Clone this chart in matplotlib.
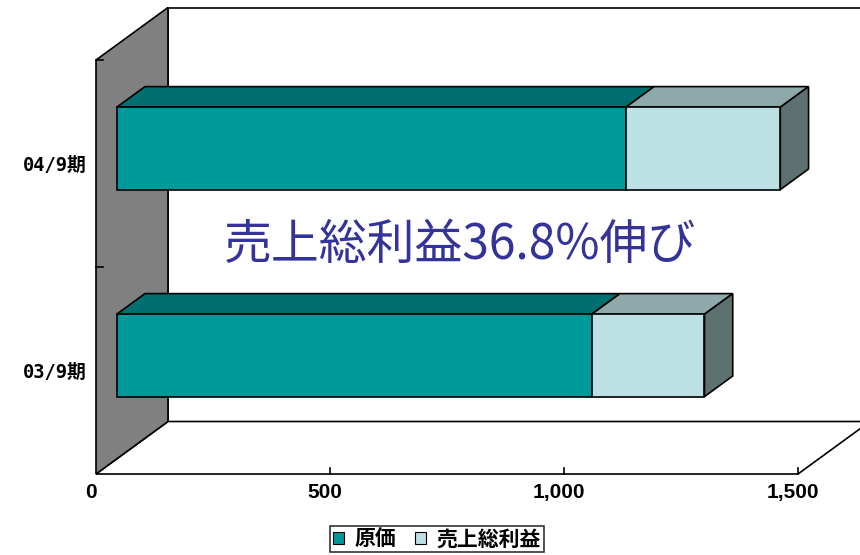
import matplotlib
matplotlib.use("Agg")
import matplotlib.pyplot as plt
from matplotlib.patches import Polygon, Patch

plt.rcParams['font.family'] = ['Noto Sans CJK JP', 'DejaVu Sans']

# ---- data ----
categories = ['03/9期', '04/9期']
series_names = ['原価', '売上総利益']
cost = [1015, 1088]
gross_profit = [241, 330]
x_ticks = [0, 500, 1000, 1500]
x_tick_labels = ['0', '500', '1,000', '1,500']
note = '売上総利益36.8%伸び'

# ---- colours (front / top / end faces) ----
front_cols = ['#009999', '#BCE0E3']
top_cols = ['#006F6F', '#8EA9AA']
end_col = '#5E7171'
wall_col = '#808080'

# ---- geometry of the pseudo-3D box ----
VMAX = 1500
C_LO, C_HI = -0.5, 1.5
DEPTH = (153.8, 0.2536)        # full depth offset in data units
BAR_F0, BAR_F1 = 0.2875, 0.68  # bar position inside the depth
HALF_H = 0.199                 # half bar height

fig = plt.figure(figsize=(8.6, 5.55), dpi=100)
ax = fig.add_axes([0, 0, 1, 1])
ax.set_xlim(-205.13, 1632.5)
ax.set_ylim(-0.8913, 1.7899)
ax.axis('off')


def sh(p, f):
    return (p[0] + DEPTH[0] * f, p[1] + DEPTH[1] * f)


def poly(pts, fc, z=1, lw=1.2):
    ax.add_patch(Polygon(pts, closed=True, facecolor=fc, edgecolor='black',
                         linewidth=lw, zorder=z, joinstyle='miter'))


# back wall, floor, left wall
poly([sh((0, C_LO), 1), sh((VMAX, C_LO), 1), sh((VMAX, C_HI), 1),
      sh((0, C_HI), 1)], 'white', z=1)
poly([(0, C_LO), (VMAX, C_LO), sh((VMAX, C_LO), 1), sh((0, C_LO), 1)],
     'white', z=2)
poly([(0, C_LO), (0, C_HI), sh((0, C_HI), 1), sh((0, C_LO), 1)],
     wall_col, z=2)

# axis ticks
for c in [0.5, 1.5]:
    ax.plot([0, 15], [c, c], color='black', lw=1.2, zorder=3)
for v in x_ticks[1:]:
    ax.plot([v, v], [C_LO, C_LO + 0.029], color='black', lw=1.2, zorder=3)
for v, lab in zip(x_ticks, x_tick_labels):
    ax.text(v - 10, C_LO - 0.087, lab, ha='center', va='center',
            fontsize=15, fontweight='bold', family=['Liberation Sans'],
            zorder=5)
for i, lab in enumerate(categories):
    ax.text(-19, i - 0.01, lab, ha='right', va='center', fontsize=13.5,
            fontweight='bold', family=['DejaVu Sans Mono', 'Noto Sans CJK JP'],
            zorder=5)

# stacked 3D bars
for i in range(len(categories)):
    segs = [(0, cost[i]), (cost[i], cost[i] + gross_profit[i])]
    lo, hi = i - HALF_H, i + HALF_H
    for k, (a, b) in enumerate(segs):
        poly([sh((a, hi), BAR_F0), sh((b, hi), BAR_F0),
              sh((b, hi), BAR_F1), sh((a, hi), BAR_F1)], top_cols[k], z=4)
        poly([sh((a, lo), BAR_F0), sh((b, lo), BAR_F0),
              sh((b, hi), BAR_F0), sh((a, hi), BAR_F0)], front_cols[k], z=5)
    end = segs[-1][1]
    poly([sh((end, lo), BAR_F0), sh((end, lo), BAR_F1),
          sh((end, hi), BAR_F1), sh((end, hi), BAR_F0)], end_col, z=4)

ax.text(778, 0.606, note, ha='center', va='center', fontsize=34.5,
        color='#333399', zorder=6)

handles = [Patch(facecolor=front_cols[0], edgecolor='black', linewidth=0.8),
           Patch(facecolor=front_cols[1], edgecolor='black', linewidth=0.8)]
leg = fig.legend(handles, series_names, loc='upper center',
                 bbox_to_anchor=(0.508, 0.0523), ncol=2, frameon=True,
                 fancybox=False, edgecolor='black', handlelength=0.55,
                 handleheight=0.55, handletextpad=0.5, columnspacing=0.9,
                 borderpad=0.12, borderaxespad=0,
                 prop={'size': 15, 'weight': 'bold'})
leg.get_frame().set_linewidth(1.2)

fig.savefig('out.png', dpi=100)
